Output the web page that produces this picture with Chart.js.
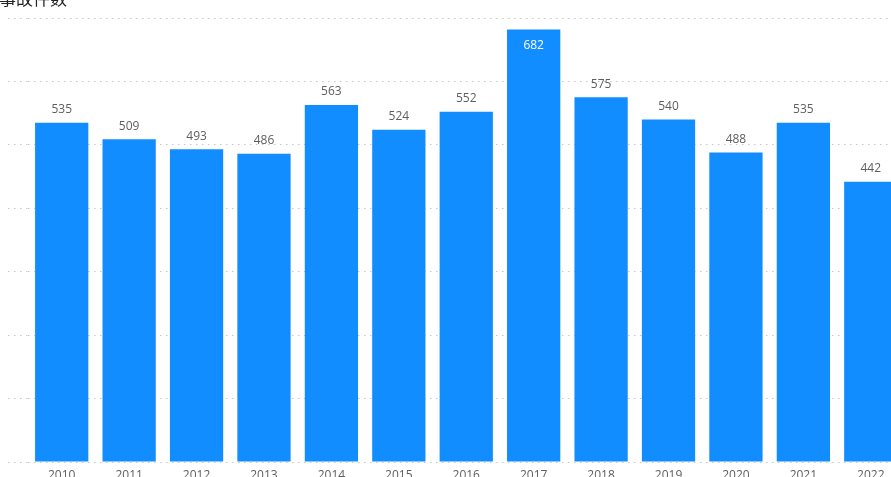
<!DOCTYPE html>
<html><head><meta charset="utf-8">
<script src="https://cdn.jsdelivr.net/npm/chart.js@4/dist/chart.umd.min.js"></script>
<style>
html,body{margin:0;padding:0;overflow:hidden;background:#fff;width:891px;height:477px;}
#wrap{position:absolute;left:0;top:0;width:910px;height:490px;}
</style></head>
<body>
<div id="wrap"><canvas id="c" width="910" height="490"></canvas></div>
<script>
const title = "事故件数";
const categories = ["2010","2011","2012","2013","2014","2015","2016","2017","2018","2019","2020","2021","2022"];
const accidents = [535,509,493,486,563,524,552,682,575,540,488,535,442];
const yTicks = [0,100,200,300,400,500,600,700];

const labelPlugin = {
  id: 'labels',
  afterDatasetsDraw(chart) {
    const ctx = chart.ctx;
    const meta = chart.getDatasetMeta(0);
    ctx.save();
    ctx.font = '12px "Open Sans", "Noto Sans", sans-serif';
    ctx.textAlign = 'center';
    ctx.textBaseline = 'middle';
    meta.data.forEach((bar, i) => {
      const v = accidents[i];
      const above = bar.y - 13;
      if (above - 8 < chart.chartArea.top) {
        ctx.fillStyle = '#ffffff';
        ctx.fillText(String(v), bar.x, bar.y + 16);
      } else {
        ctx.fillStyle = '#605e5c';
        ctx.fillText(String(v), bar.x, above);
      }
    });
    ctx.restore();
  }
};
const titlePlugin = {
  id: 'ttl',
  afterDraw(chart) {
    const ctx = chart.ctx;
    ctx.save();
    ctx.font = '17px "Noto Sans CJK SC", sans-serif';
    ctx.fillStyle = '#252423';
    ctx.textAlign = 'left';
    ctx.textBaseline = 'alphabetic';
    ctx.fillText(title, -1, 4.5);
    ctx.restore();
  }
};

new Chart(document.getElementById('c'), {
  type: 'bar',
  data: {
    labels: categories,
    datasets: [{
      data: accidents,
      backgroundColor: '#118DFF',
      categoryPercentage: 1,
      barPercentage: 0.79
    }]
  },
  options: {
    responsive: false,
    animation: false,
    layout: { padding: { top: 18, right: 5.5, bottom: 0, left: 0 } },
    plugins: { legend: { display: false }, tooltip: { enabled: false } },
    scales: {
      x: {
        grid: { display: false, drawTicks: false },
        border: { display: false },
        ticks: { color: '#605e5c', font: { family: '"Open Sans", "Noto Sans", sans-serif', size: 12 }, padding: 6, maxRotation: 0, autoSkip: false },
        afterFit(s) { s.height = 28; }
      },
      y: {
        min: 0, max: 700,
        afterBuildTicks(s) { s.ticks = yTicks.map(v => ({ value: v })); },
        ticks: { display: false },
        border: { display: false, dash: [1.5, 4.5] },
        grid: {
          color: '#c8c8c8', lineWidth: 1,
          drawTicks: true, tickLength: 20, tickColor: '#c8c8c8', tickBorderDash: [1.5, 4.5]
        },
        afterFit(s) { s.width = 28; }
      }
    }
  },
  plugins: [labelPlugin, titlePlugin]
});
</script>
</body></html>
